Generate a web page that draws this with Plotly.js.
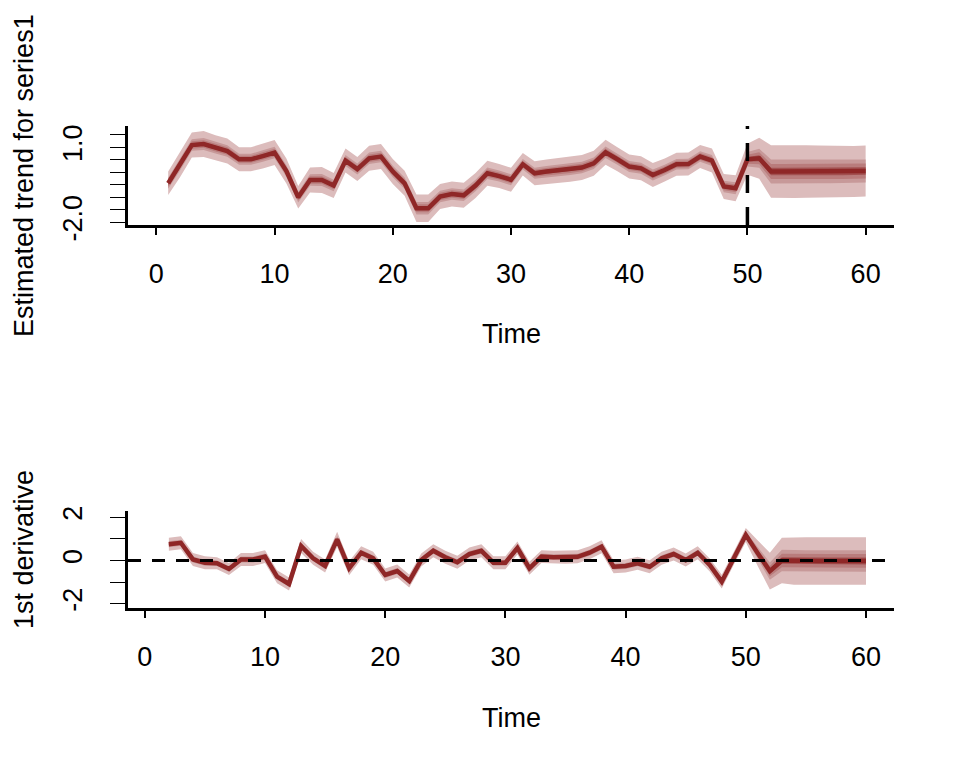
<!DOCTYPE html>
<html>
<head>
<meta charset="utf-8">
<script src="https://cdn.plot.ly/plotly-3.0.1.min.js"></script>
<style>html,body{margin:0;padding:0;background:#fff;}#chart{width:960px;height:768px;}</style>
</head>
<body>
<div id="chart"></div>
<script>
// ---------- data ----------
const trendTime = [1,2,3,4,5,6,7,8,9,10,11,12,13,14,15,16,17,18,19,20,21,22,23,24,25,26,27,28,29,30,
                   31,32,33,34,35,36,37,38,39,40,41,42,43,44,45,46,47,48,49,50,51,52,53,54,55,56,57,58,59,60];
const trendMedian = [-0.44,0.30,1.09,1.13,0.98,0.85,0.52,0.52,0.65,0.79,0.05,-1.00,-0.31,-0.31,-0.53,0.47,0.13,0.56,0.63,0.03,
                     -0.44,-1.44,-1.44,-0.97,-0.87,-0.92,-0.53,-0.04,-0.15,-0.30,0.32,-0.04,0.03,0.07,0.12,0.19,0.36,0.80,0.52,0.23,
                     0.16,-0.11,0.09,0.32,0.33,0.63,0.47,-0.57,-0.64,0.52,0.56,0.03,0.03,0.03,0.03,0.03,0.03,0.03,0.03,0.05];
// half-widths of the credible bands (5-95, 20-80, 30-70, 40-60 %)
const trendW90 = [0.47,0.50,0.50,0.52,0.50,0.50,0.48,0.48,0.50,0.50,0.50,0.45,0.50,0.52,0.50,0.48,0.48,0.50,0.50,0.50,
                  0.50,0.55,0.55,0.50,0.50,0.50,0.50,0.50,0.48,0.48,0.45,0.48,0.48,0.50,0.50,0.50,0.50,0.50,0.48,0.48,
                  0.48,0.48,0.46,0.46,0.46,0.46,0.48,0.50,0.52,0.62,0.82,1.05,1.05,1.06,1.05,1.04,1.03,1.02,1.02,1.02];
const trendW60 = [0.22,0.23,0.23,0.24,0.23,0.23,0.22,0.22,0.23,0.23,0.23,0.21,0.23,0.24,0.23,0.22,0.22,0.23,0.23,0.23,
                  0.23,0.25,0.25,0.23,0.23,0.23,0.23,0.23,0.22,0.22,0.21,0.22,0.22,0.23,0.23,0.23,0.23,0.23,0.22,0.22,
                  0.22,0.22,0.21,0.21,0.21,0.21,0.22,0.23,0.24,0.29,0.38,0.48,0.48,0.48,0.48,0.47,0.47,0.46,0.46,0.46];
const trendW40 = [0.14,0.15,0.15,0.15,0.15,0.15,0.14,0.14,0.15,0.15,0.15,0.13,0.15,0.15,0.15,0.14,0.14,0.15,0.15,0.15,
                  0.15,0.16,0.16,0.15,0.15,0.15,0.15,0.15,0.14,0.14,0.13,0.14,0.14,0.15,0.15,0.15,0.15,0.15,0.14,0.14,
                  0.14,0.14,0.14,0.14,0.14,0.14,0.14,0.15,0.15,0.18,0.24,0.30,0.30,0.30,0.30,0.30,0.30,0.30,0.30,0.30];
const trendW20 = [0.07,0.07,0.07,0.07,0.07,0.07,0.07,0.07,0.07,0.07,0.07,0.06,0.07,0.07,0.07,0.07,0.07,0.07,0.07,0.07,
                  0.07,0.08,0.08,0.07,0.07,0.07,0.07,0.07,0.07,0.07,0.06,0.07,0.07,0.07,0.07,0.07,0.07,0.07,0.07,0.07,
                  0.07,0.07,0.07,0.07,0.07,0.07,0.07,0.07,0.07,0.09,0.12,0.15,0.15,0.15,0.15,0.15,0.15,0.15,0.15,0.15];

const derivTime = [2,3,4,5,6,7,8,9,10,11,12,13,14,15,16,17,18,19,20,21,22,23,24,25,26,27,28,29,30,
                   31,32,33,34,35,36,37,38,39,40,41,42,43,44,45,46,47,48,49,50,51,52,53,54,55,56,57,58,59,60];
const derivMedian = [0.75,0.82,0.05,-0.10,-0.13,-0.39,0.05,0.05,0.18,-0.75,-1.09,0.67,0.10,-0.25,0.98,-0.36,0.36,0.10,-0.67,
                     -0.49,-0.95,0.02,0.45,0.15,-0.08,0.30,0.45,-0.10,-0.10,0.58,-0.36,0.18,0.15,0.15,0.17,0.36,0.64,-0.29,-0.25,
                     -0.13,-0.29,0.10,0.30,0.02,0.36,-0.21,-0.98,0.10,1.18,0.33,-0.49,0.00,-0.02,-0.02,-0.02,-0.02,-0.02,-0.02,-0.02];
const derivW90 = [0.30,0.30,0.30,0.30,0.28,0.28,0.30,0.30,0.30,0.30,0.30,0.32,0.30,0.30,0.35,0.32,0.30,0.30,0.30,
                  0.30,0.30,0.30,0.30,0.30,0.30,0.30,0.30,0.30,0.30,0.30,0.30,0.30,0.30,0.30,0.30,0.30,0.30,0.30,0.30,
                  0.30,0.30,0.30,0.30,0.30,0.30,0.30,0.32,0.30,0.32,0.60,0.85,1.05,1.10,1.10,1.10,1.10,1.10,1.10,1.10];
const derivW60 = [0.14,0.14,0.14,0.14,0.13,0.13,0.14,0.14,0.14,0.14,0.14,0.15,0.14,0.14,0.16,0.15,0.14,0.14,0.14,
                  0.14,0.14,0.14,0.14,0.14,0.14,0.14,0.14,0.14,0.14,0.14,0.14,0.14,0.14,0.14,0.14,0.14,0.14,0.14,0.14,
                  0.14,0.14,0.14,0.14,0.14,0.14,0.14,0.15,0.14,0.15,0.28,0.40,0.50,0.50,0.50,0.50,0.50,0.50,0.50,0.50];
const derivW40 = [0.09,0.09,0.09,0.09,0.08,0.08,0.09,0.09,0.09,0.09,0.09,0.09,0.09,0.09,0.10,0.09,0.09,0.09,0.09,
                  0.09,0.09,0.09,0.09,0.09,0.09,0.09,0.09,0.09,0.09,0.09,0.09,0.09,0.09,0.09,0.09,0.09,0.09,0.09,0.09,
                  0.09,0.09,0.09,0.09,0.09,0.09,0.09,0.09,0.09,0.09,0.17,0.24,0.31,0.32,0.32,0.32,0.32,0.32,0.32,0.32];
const derivW20 = [0.04,0.04,0.04,0.04,0.04,0.04,0.04,0.04,0.04,0.04,0.04,0.04,0.04,0.04,0.05,0.04,0.04,0.04,0.04,
                  0.04,0.04,0.04,0.04,0.04,0.04,0.04,0.04,0.04,0.04,0.04,0.04,0.04,0.04,0.04,0.04,0.04,0.04,0.04,0.04,
                  0.04,0.04,0.04,0.04,0.04,0.04,0.04,0.04,0.04,0.04,0.08,0.12,0.15,0.16,0.16,0.16,0.16,0.16,0.16,0.16];

const forecastStart = 50;
const xTicks = [0,10,20,30,40,50,60];
const trendYTicks = [-2,-1.5,-1,-0.5,0,0.5,1,1.5];
const trendYLabels = ['-2.0','','','','','','1.0',''];
const derivYTicks = [-2,-1,0,1,2];
const derivYLabels = ['-2','','0','','2'];

// ---------- styling ----------
const bandColors = ['#DCBCBC','#C79999','#B97C7C','#A25050'];
const lineColor = '#8F2727';
const FONT = 'Liberation Sans, Arial, sans-serif';
const FS = 27;

function bandTraces(t, med, widths, xa, ya){
  return widths.map((w, k) => {
    const up = med.map((m,i)=>m + w[i]);
    const lo = med.map((m,i)=>m - w[i]);
    return {
      x: t.concat(t.slice().reverse()),
      y: up.concat(lo.slice().reverse()),
      type:'scatter', mode:'lines', fill:'toself', fillcolor: bandColors[k],
      line:{width:0, color: bandColors[k]}, hoverinfo:'skip', xaxis: xa, yaxis: ya
    };
  });
}

const traces = []
  .concat(bandTraces(trendTime, trendMedian, [trendW90, trendW60, trendW40, trendW20], 'x', 'y'))
  .concat([{x: trendTime, y: trendMedian, type:'scatter', mode:'lines',
            line:{color: lineColor, width: 4.5}, xaxis:'x', yaxis:'y'}])
  .concat(bandTraces(derivTime, derivMedian, [derivW90, derivW60, derivW40, derivW20], 'x2', 'y2'))
  .concat([{x: derivTime, y: derivMedian, type:'scatter', mode:'lines',
            line:{color: lineColor, width: 4.5}, xaxis:'x2', yaxis:'y2'}]);

const W = 960, H = 768;
const px = v => v / W, py = v => 1 - v / H;

const xCommon = {
  tickvals: xTicks, ticktext: xTicks.map(String), showgrid:false, zeroline:false,
  showline:true, linecolor:'#000', linewidth:3, ticks:'outside', ticklen:7, tickwidth:2, tickcolor:'#000',
  tickfont:{family: FONT, size: FS, color:'#000'}, ticklabelstandoff: 16, automargin:false, fixedrange:true
};
const yCommon = {
  showgrid:false, zeroline:false, showline:true, linecolor:'#000', linewidth:3,
  ticks:'outside', ticklen:15, tickwidth:1, tickcolor:'#000', tickangle:-90,
  tickfont:{family: FONT, size: FS, color:'#000'}, ticklabelstandoff: 17, automargin:false, fixedrange:true
};

const layout = {
  width: W, height: H, margin:{l:0,r:0,t:0,b:0},
  paper_bgcolor:'#fff', plot_bgcolor:'rgba(0,0,0,0)', showlegend:false,
  font:{family: FONT, size: FS, color:'#000'},
  xaxis: Object.assign({}, xCommon, {domain:[px(128), px(894)], range:[-2.4, 62.4], anchor:'y'}),
  yaxis: Object.assign({}, yCommon, {domain:[py(225), py(126)], range:[-2.108, 1.852], anchor:'x',
          tickvals: trendYTicks, ticktext: trendYLabels}),
  xaxis2: Object.assign({}, xCommon, {domain:[px(128), px(894)], range:[-1.40, 62.33], anchor:'y2'}),
  yaxis2: Object.assign({}, yCommon, {domain:[py(607.5), py(511)], range:[-2.176, 2.292], anchor:'x2',
          tickvals: derivYTicks, ticktext: derivYLabels}),
  shapes: [
    {type:'line', xref:'x', yref:'y domain', x0: forecastStart, x1: forecastStart, y0:0, y1:1,
     line:{color:'#000', width:3.5, dash:'18px,14px'}, layer:'above'},
    {type:'line', xref:'x2 domain', yref:'y2', x0:0, x1:1, y0:0, y1:0,
     line:{color:'#000', width:3, dash:'13px,11px'}, layer:'above'}
  ],
  annotations: [
    {text:'Estimated trend for series1', xref:'paper', yref:'paper', x: px(24), y: py(176),
     xanchor:'center', yanchor:'middle', textangle:-90, showarrow:false, font:{family:FONT, size:FS, color:'#000'}},
    {text:'Time', xref:'paper', yref:'paper', x: px(511), y: py(334),
     xanchor:'center', yanchor:'middle', showarrow:false, font:{family:FONT, size:FS, color:'#000'}},
    {text:'1st derivative', xref:'paper', yref:'paper', x: px(24), y: py(550),
     xanchor:'center', yanchor:'middle', textangle:-90, showarrow:false, font:{family:FONT, size:FS, color:'#000'}},
    {text:'Time', xref:'paper', yref:'paper', x: px(511), y: py(718),
     xanchor:'center', yanchor:'middle', showarrow:false, font:{family:FONT, size:FS, color:'#000'}}
  ]
};

Plotly.newPlot('chart', traces, layout, {displayModeBar:false, staticPlot:true});
</script>
</body>
</html>
